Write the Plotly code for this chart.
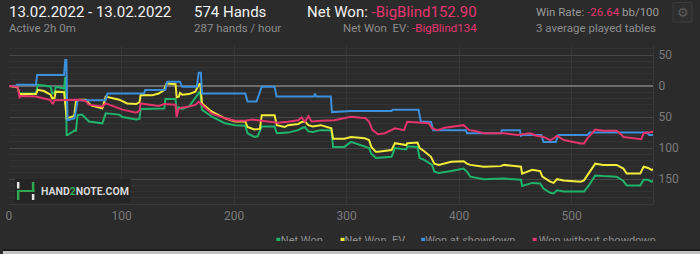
import plotly.graph_objects as go

W, H = 700, 254

# ---------------- data ----------------
net_won_hands = [0, 7, 8, 9.4, 24, 25.6, 31, 37, 38.5, 40.5, 41.5, 49, 50, 51.3, 52, 58, 59.5, 61, 65, 71, 83, 86,
                 98, 101, 113, 116, 117, 133, 138, 139, 148, 149, 151, 154, 160, 168, 169, 170, 171.5, 180, 192,
                 201, 210, 212, 218, 221, 224.6, 236, 238, 248, 257, 260, 263, 266, 270, 277, 286.5, 288, 298,
                 304, 316, 320, 322, 326, 340, 343, 353, 354, 363, 365, 369, 376, 378, 382, 393, 404, 407, 410,
                 422, 440, 455, 456, 465, 472, 475, 481, 484, 487, 493, 511, 515, 521, 528, 540, 546, 549, 561,
                 564, 568, 571, 573]
net_won = [0, -1, -4, -12, -12, 2, 1, -1, -12, -11, -1, -4, 15, -79, -79, -72, -72, -47, -46, -57, -60, -44,
           -46, -50, -54, -53, -37, -37, -36, -21, -21, -38, -34, -37, -33, -13, -10, -12, -38, -49, -60,
           -63, -64, -76, -82, -81, -65, -65, -76, -75, -71, -68, -66, -73, -74, -71, -71, -98, -98,
           -90, -97, -100, -109, -116, -114, -100, -102, -97, -98, -116, -119, -127, -138, -140, -137, -133, -138, -146,
           -150, -149, -151, -161, -156, -157, -165, -172, -173, -168, -170, -170, -161, -144, -145, -146, -153, -160, -160,
           -151, -151, -154, -153]

ev_hands = [0, 7, 8, 9.4, 24, 25.6, 31, 37, 38.5, 40.5, 41.5, 49, 51.3, 58, 59.5, 62.5, 68.4, 71, 74, 83, 86,
            98, 105, 113, 116, 117, 127, 133, 137.6, 140, 148, 149, 151, 152, 154, 160, 165.6, 168.6, 170, 171.5,
            180, 192, 201, 210, 212, 218, 223, 224.6, 236, 238, 245, 248, 257, 260, 263, 266, 270, 277, 286.5,
            288, 298, 304, 316, 320, 322, 326, 328, 340, 343, 353, 354, 363, 365, 369, 375, 378, 382, 393, 404,
            407, 410, 422, 437, 440, 455, 456, 465, 472, 474, 481, 484, 487, 493, 508, 511, 515, 521, 528, 540,
            546, 549, 561, 564, 568, 571, 573]
net_won_ev = [0, -1, -4, -13, -13, -6, -8, -14, -20, -19, -9, -10, -52, -48, -25, -22, -22, -28, -32, -36, -17,
              -22, -28, -29, -26, -14.5, -15, -12, -7, 4, 3, -18, -17, -11, -14, -13, -9, 2, 4, -28,
              -41, -52, -57, -57, -66, -70, -69, -47, -47, -63, -66, -63, -61, -58, -57, -63, -65, -63, -68,
              -85, -85, -82, -84, -87, -98, -106, -106, -103, -92, -95, -92, -91, -100, -105, -114, -125, -127, -122, -121,
              -125, -127, -130, -129, -127, -130, -141, -135, -137, -146, -154, -156, -150, -152, -154, -152, -141, -125, -127, -127,
              -133, -141, -141, -130, -132, -135, -134]

sd_hands = [0, 6, 7, 24, 25, 49, 50, 51, 52, 58, 59.5, 61, 86, 87.5, 120, 121, 139, 140.6, 152, 153.8, 167,
            168.6, 170.5, 171.5, 210, 212, 220, 224.6, 236, 237.8, 271, 272, 273, 286, 287, 304, 340, 341, 364,
            366, 375, 377, 406, 407, 437, 438, 454, 455, 456, 473, 475, 486, 488, 514, 516, 567, 569, 573]
won_showdown = [0, 0, 2, 2, 18, 18, 42, 42, -55, -52, -40, -23, -23, -12, -12, -6.5, -6, 7, 7, -1, -1,
                21.5, 21.5, -12, -12, -25, -25, -1, -1, -17, -17, -12, -17, -17, -42, -40, -40, -38, -38,
                -57, -58, -71, -71, -76, -76, -71, -71, -80, -79, -79, -90, -90, -79, -79, -75, -75, -79, -79]

nsd_hands = [0, 7, 8, 9.4, 11, 24, 31, 36, 37, 38.9, 40.4, 53, 62, 68, 71, 83, 86, 98, 101, 113, 116, 117, 127,
             133, 138, 148, 149, 150.5, 153, 160, 166, 168.6, 171.5, 180, 192, 201, 210, 216, 224.6, 239, 248,
             257, 260, 263, 266, 269, 277.6, 289, 304, 317, 320, 323, 328, 334, 343, 351, 354, 363, 373, 376,
             381, 387, 393, 404, 409, 413, 422, 440, 452, 463, 469, 475, 481, 484, 487, 493, 508, 511, 514, 521,
             528, 540, 544, 546, 562, 564, 571, 573]
won_no_showdown = [0, -1, -3, -18, -16, -17, -20, -22, -24, -29, -23, -22.6, -22, -24, -30, -33, -28, -36, -38, -43, -40, -28, -30,
                   -32, -29, -30, -50, -38, -35, -33, -30, -25, -30, -44, -52, -56, -56, -54, -56, -59, -57.5,
                   -55, -50.5, -57.5, -48.4, -57, -56, -55, -49.5, -52, -57.5, -71, -77.6, -76, -68, -71, -57.5, -59, -60, -68,
                   -71, -67, -66, -63, -71, -72, -76, -76, -79, -76, -80, -82, -87, -84.4, -80, -87, -92.5, -92.5, -84.4, -70,
                   -72, -72, -78, -82, -85.5, -76, -74, -74]

series_names = ["Net Won", "Net Won\u00a0 EV", "Won at showdown", "Won without showdown"]
series_colors = ["#1fb36c", "#f2ec3a", "#3b8fdb", "#e3346c"]

y_tick_vals = [50, 0, -50, -100, -150]
y_tick_text = ["50", "0", "50", "100", "150"]
x_tick_vals = [0, 100, 200, 300, 400, 500]
x_tick_text = ["0", "100", "200", "300", "400", "500"]

header_date = "13.02.2022 - 13.02.2022"
header_active = "Active 2h 0m"
header_hands = "574 Hands"
header_rate = "287 hands / hour"
net_won_value = "-BigBlind152.90"
net_won_ev_value = "-BigBlind134"
win_rate_value = "-26.64"
tables_text = "3 average played tables"

# ---------------- layout helpers ----------------
BG = "#2b2b2b"
PINK = "#e63570"
GREY = "#8c8c8c"
FONT = "Roboto"
PAD = 3  # annotation inner padding compensation


def X(p):
    return p / W


def Y(p):
    return 1 - p / H


def rect(x0, y0, x1, y1, color, line=None, layer="above"):
    return dict(type="rect", xref="paper", yref="paper", x0=X(x0), x1=X(x1), y0=Y(y1), y1=Y(y0),
                fillcolor=color, line=dict(width=0) if line is None else line, layer=layer)


def ann(text, x, y, size, color, xanchor="left", yanchor="middle"):
    if xanchor == "left":
        x -= PAD
    elif xanchor == "right":
        x += PAD
    return dict(text=text, x=X(x), y=Y(y), xref="paper", yref="paper", xanchor=xanchor, yanchor=yanchor,
                showarrow=False, font=dict(family=FONT, size=size, color=color))


fig = go.Figure()

data = [(net_won_hands, net_won), (ev_hands, net_won_ev), (sd_hands, won_showdown), (nsd_hands, won_no_showdown)]
for (xs, ys), name, col in zip(data, series_names, series_colors):
    fig.add_trace(go.Scatter(x=xs, y=ys, mode="lines", name=name, line=dict(color=col, width=2),
                             showlegend=False, hoverinfo="skip"))

# clipped legend row (drawn on its own small axis so the lower half is cut off)
leg_marker_x = [276.5, 341, 422, 534]
leg_text_x = [279, 343, 424, 538]
fig.add_trace(go.Scatter(x=leg_marker_x, y=[1.2] * 4, mode="markers", xaxis="x2", yaxis="y2",
                         marker=dict(symbol="square", size=4, color=series_colors), cliponaxis=True,
                         showlegend=False, hoverinfo="skip"))
fig.add_trace(go.Scatter(x=leg_text_x, y=[0] * 4, mode="text", text=series_names, xaxis="x2", yaxis="y2",
                         textposition="middle right", textfont=dict(family=FONT, size=11, color="#8e8e8e"),
                         cliponaxis=True, showlegend=False, hoverinfo="skip"))

plot_top, plot_bottom, plot_left, plot_right = 45.7, 204, 6, 653

fig.update_layout(
    width=W, height=H, margin=dict(l=0, r=0, t=0, b=0),
    paper_bgcolor=BG, plot_bgcolor=BG,
    font=dict(family=FONT, color=GREY),
    xaxis=dict(domain=[X(plot_left), X(plot_right)], range=[0, 572.5], tickmode="array",
               tickvals=x_tick_vals, ticktext=x_tick_text, showgrid=True, gridcolor="#363636", gridwidth=1,
               zeroline=False, showline=True, linecolor="#383838", linewidth=1, mirror=False,
               tickfont=dict(family=FONT, size=12, color="#7a7a7a"), ticks="", ticklabelstandoff=1,
               fixedrange=True),
    yaxis=dict(domain=[Y(plot_bottom), Y(plot_top)], range=[-190, 65], side="right", tickmode="array",
               tickvals=y_tick_vals, ticktext=y_tick_text, showgrid=True, gridcolor="#464646", gridwidth=1,
               zeroline=True, zerolinecolor="#6c6c6c", zerolinewidth=2,
               minor=dict(tickmode="linear", tick0=0, dtick=10, showgrid=True, gridcolor="#333333", gridwidth=1),
               showline=True, linecolor="#383838", linewidth=1,
               tickfont=dict(family=FONT, size=12, color="#7a7a7a"), ticks="", ticklabelstandoff=2,
               fixedrange=True),
    xaxis2=dict(domain=[0, 1], range=[0, W], visible=False, anchor="y2", fixedrange=True),
    yaxis2=dict(domain=[Y(241), Y(229)], range=[0, 12], visible=False, anchor="x2", fixedrange=True),
)

shapes = []
# watermark box
shapes.append(rect(12, 179, 128, 203, "#252525"))
# logo
shapes.append(rect(14, 182, 16.5, 188.5, "#e6e6e6"))
shapes.append(rect(14, 190, 16.5, 200, "#2fa84f"))
shapes.append(rect(14, 190, 31.5, 192, "#2fa84f"))
shapes.append(rect(29, 182, 31.5, 192, "#2fa84f"))
shapes.append(rect(29, 194, 31.5, 200, "#e6e6e6"))
# gear box
shapes.append(rect(673, 2.5, 692, 22, "#2e2e2e", line=dict(color="#3c3c3c", width=1)))
# bottom bar
shapes.append(rect(0, 249.5, 700, 251, "#161616"))
shapes.append(rect(0, 251, 700, 254, "#c4c4c4"))
fig.update_layout(shapes=shapes)

anns = [
    ann(header_date, 7, 11.5, 15, "#f2f2f2"),
    ann(header_active, 7, 28, 11.5, GREY),
    ann(header_hands, 193, 11.5, 15, "#f2f2f2"),
    ann(header_rate, 193, 28, 11.5, GREY),
    ann("Net Won: <span style='color:%s'>%s</span>" % (PINK, net_won_value), 306, 11.5, 15, "#f2f2f2"),
    ann("Net Won\u00a0 EV: <span style='color:%s'>%s</span>" % (PINK, net_won_ev_value), 475, 28, 11.5, GREY,
        xanchor="right"),
    ann("Win Rate: <span style='color:%s'>%s</span> bb/100" % (PINK, win_rate_value), 536, 11.5, 11.5, "#9a9a9a"),
    ann(tables_text, 536, 28, 11.5, GREY),
    ann("⚙", 682.5, 12.5, 13, "#5a5a5a", xanchor="center"),
    ann("<b>HAND<span style='color:#2fa84f'>2</span>NOTE.COM</b>", 39, 191, 10.5, "#d6d6d6"),
]
fig.update_layout(annotations=anns)

fig.write_html("out.html")
